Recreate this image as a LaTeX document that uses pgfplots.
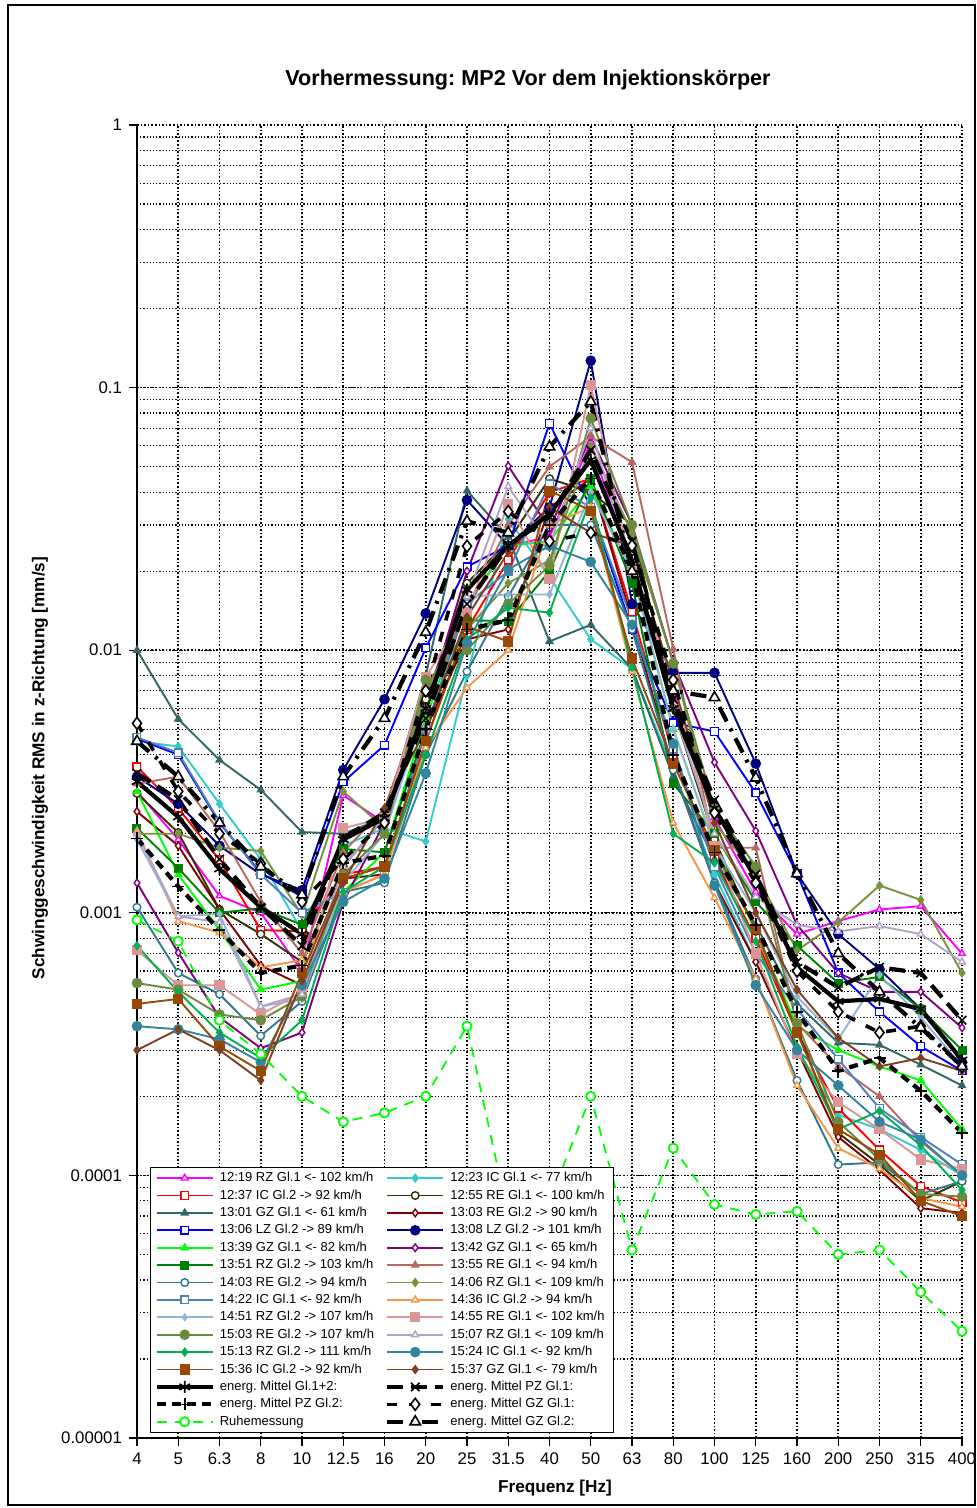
\documentclass[border=0pt]{standalone}
\usepackage{pgfplots}
\pgfplotsset{compat=1.18}
\usepackage{fontspec}
\setmainfont{Liberation Sans}
\frenchspacing
\definecolor{cA}{HTML}{FF00FF}
\definecolor{cB}{HTML}{33CCCC}
\definecolor{cC}{HTML}{FF0000}
\definecolor{cD}{HTML}{333300}
\definecolor{cE}{HTML}{336666}
\definecolor{cF}{HTML}{800000}
\definecolor{cG}{HTML}{0000FF}
\definecolor{cH}{HTML}{000080}
\definecolor{cI}{HTML}{00FF00}
\definecolor{cJ}{HTML}{800080}
\definecolor{cK}{HTML}{008000}
\definecolor{cL}{HTML}{B8685E}
\definecolor{cM}{HTML}{31788F}
\definecolor{cN}{HTML}{77933C}
\definecolor{cO}{HTML}{4F81BD}
\definecolor{cP}{HTML}{F79646}
\definecolor{cQ}{HTML}{95B3D7}
\definecolor{cR}{HTML}{D99694}
\definecolor{cS}{HTML}{6A8A3F}
\definecolor{cT}{HTML}{B3A2C7}
\definecolor{cU}{HTML}{00B050}
\definecolor{cV}{HTML}{31859C}
\definecolor{cW}{HTML}{984807}
\definecolor{cX}{HTML}{7E3F20}
\pgfplotsset{
  ser/.style n args={3}{color=#1, mark=#2, line width=0.95pt, mark size=1.9pt, mark options={solid, fill=#3, line width=0.7pt}},
  mean/.style={black, line width=2.1pt, mark size=3pt, mark options={solid, fill=white, line width=0.8pt}},
}
\begin{document}
\begin{tikzpicture}[x=1pt,y=1pt]
\useasboundingbox (-68.5,-35) rectangle (420,719);
\draw[line width=1pt] (-64.5,-33.5) rectangle (419,716.5);
\node[font=\bfseries\fontsize{10.8}{13}\selectfont] at (195.5,679) {Vorhermessung: MP2 Vor dem Injektionskörper};
\node[font=\bfseries\fontsize{8.6}{10}\selectfont, rotate=90] at (-48.5,335) {Schwinggeschwindigkeit RMS in z-Richtung [mm/s]};
\node[font=\bfseries\fontsize{8.6}{10}\selectfont] at (209,-25) {Frequenz [Hz]};
\begin{axis}[
  at={(0,0)}, anchor=south west,
  scale only axis, width=412.5pt, height=656.5pt,
  ymode=log, ymin=1e-5, ymax=1,
  xmin=0, xmax=20,
  xtick={0,...,20},
  xticklabels={4,5,6.3,8,10,12.5,16,20,25,31.5,40,50,63,80,100,125,160,200,250,315,400},
  ytick={1e-5,1e-4,1e-3,1e-2,1e-1,1},
  yticklabels={0.00001,0.0001,0.001,0.01,0.1,1},
  tick label style={font=\fontsize{8.4}{10}\selectfont},
  axis lines*=left,
  axis line style={black, line width=0.8pt},
  tick align=outside,
  major tick length=4pt, minor tick length=0pt,
  tick style={black, line width=0.6pt},
  grid=both,
  major grid style={black, line width=0.8pt, densely dotted},
  minor grid style={black, line width=0.6pt, densely dotted},
  clip=false,
  legend columns=2,
  legend cell align=left,
  legend image code/.code={\draw[mark repeat=2,mark phase=2,#1] plot coordinates {(0pt,0pt)(14pt,0pt)(28pt,0pt)};},
  legend style={at={(axis description cs:0.0158,0.0038)}, anchor=south west,
    draw=black, line width=0.6pt, fill=white, inner xsep=2pt, inner ysep=1pt,
    font=\fontsize{6.5}{8}\selectfont, row sep=0pt,
    nodes={text height=4.9pt, text depth=1.4pt, inner ysep=1.2pt, inner xsep=2.5pt},
    /tikz/every even column/.append style={column sep=3pt}},
]
% 12:19
\addplot[ser={cA}{triangle*}{white}] coordinates {(0,2.9e-3)(1,1.9e-3)(2,1.16e-3)(3,1.0e-3)(4,6.0e-4)(5,2.8e-3)(6,2.2e-3)(7,6e-3)(8,0.015)(9,0.025)(10,0.027)(11,0.062)(12,0.02)(13,7e-3)(14,2.3e-3)(15,1.2e-3)(16,8.3e-4)(17,9.3e-4)(18,1.03e-3)(19,1.06e-3)(20,7.0e-4)};
\addlegendentry{12:19 RZ Gl.1 <- 102 km/h}
% 12:23
\addplot[ser={cB}{diamond*}{cB}] coordinates {(0,4.5e-3)(1,4.3e-3)(2,2.6e-3)(3,1.6e-3)(4,8.5e-4)(5,1.8e-3)(6,2.1e-3)(7,1.87e-3)(8,8e-3)(9,0.0316)(10,0.019)(11,0.011)(12,8.5e-3)(13,3.5e-3)(14,1.4e-3)(15,6.5e-4)(16,3.0e-4)(17,1.7e-4)(18,1.5e-4)(19,1.25e-4)(20,1.0e-4)};
\addlegendentry{12:23 IC Gl.1 <- 77 km/h}
% 12:37
\addplot[ser={cC}{square*}{white}] coordinates {(0,3.6e-3)(1,2.5e-3)(2,1.59e-3)(3,8.6e-4)(4,8.5e-4)(5,1.4e-3)(6,1.5e-3)(7,4.5e-3)(8,0.012)(9,0.022)(10,0.04)(11,0.045)(12,0.014)(13,4e-3)(14,1.6e-3)(15,8e-4)(16,3.5e-4)(17,1.8e-4)(18,1.25e-4)(19,9.1e-5)(20,7.9e-5)};
\addlegendentry{12:37 IC Gl.2 -> 92 km/h}
% 12:55
\addplot[ser={cD}{*}{white}] coordinates {(0,2.85e-3)(1,2.02e-3)(2,1.03e-3)(3,8.3e-4)(4,6.5e-4)(5,1.5e-3)(6,2.3e-3)(7,6.5e-3)(8,0.018)(9,0.026)(10,0.045)(11,0.04)(12,0.03)(13,6e-3)(14,1.9e-3)(15,8.5e-4)(16,3.6e-4)(17,1.45e-4)(18,1.1e-4)(19,8e-5)(20,9.5e-5)};
\addlegendentry{12:55 RE Gl.1 <- 100 km/h}
% 13:01
\addplot[ser={cE}{triangle*}{cE}] coordinates {(0,0.01)(1,5.47e-3)(2,3.82e-3)(3,2.94e-3)(4,2.03e-3)(5,2.0e-3)(6,2.3e-3)(7,8e-3)(8,0.0405)(9,0.027)(10,0.0108)(11,0.0125)(12,8.5e-3)(13,3.3e-3)(14,1.6e-3)(15,9e-4)(16,4.5e-4)(17,3.2e-4)(18,3.14e-4)(19,2.64e-4)(20,2.2e-4)};
\addlegendentry{13:01 GZ Gl.1 <- 61 km/h}
% 13:03
\addplot[ser={cF}{diamond*}{white}] coordinates {(0,2.43e-3)(1,1.8e-3)(2,1.03e-3)(3,6.3e-4)(4,5.3e-4)(5,1.35e-3)(6,1.4e-3)(7,5e-3)(8,0.011)(9,0.012)(10,0.035)(11,0.045)(12,0.013)(13,3.5e-3)(14,1.3e-3)(15,6.5e-4)(16,3.0e-4)(17,1.4e-4)(18,1.05e-4)(19,7.5e-5)(20,7.2e-5)};
\addlegendentry{13:03 RE Gl.2 -> 90 km/h}
% 13:06
\addplot[ser={cG}{square*}{white}] coordinates {(0,4.6e-3)(1,4.0e-3)(2,2.2e-3)(3,1.42e-3)(4,1.15e-3)(5,3.15e-3)(6,4.35e-3)(7,0.0102)(8,0.0208)(9,0.025)(10,0.073)(11,0.035)(12,0.012)(13,5.3e-3)(14,4.9e-3)(15,2.86e-3)(16,1.41e-3)(17,5.9e-4)(18,4.2e-4)(19,3.1e-4)(20,2.5e-4)};
\addlegendentry{13:06 LZ Gl.2 -> 89 km/h}
% 13:08
\addplot[ser={cH}{*}{cH}, mark size=2.3pt] coordinates {(0,3.3e-3)(1,2.6e-3)(2,1.8e-3)(3,1.4e-3)(4,1.22e-3)(5,3.5e-3)(6,6.5e-3)(7,0.0138)(8,0.0373)(9,0.025)(10,0.035)(11,0.1266)(12,0.015)(13,8.2e-3)(14,8.2e-3)(15,3.7e-3)(16,1.41e-3)(17,8.3e-4)(18,6.1e-4)(19,4.3e-4)(20,2.7e-4)};
\addlegendentry{13:08 LZ Gl.2 -> 101 km/h}
% 13:39
\addplot[ser={cI}{triangle*}{cI}] coordinates {(0,2.9e-3)(1,1.4e-3)(2,8.6e-4)(3,5.1e-4)(4,5.5e-4)(5,1.2e-3)(6,1.7e-3)(7,5.5e-3)(8,0.015)(9,0.025)(10,0.026)(11,0.042)(12,0.02)(13,5e-3)(14,1.8e-3)(15,8.5e-4)(16,3.7e-4)(17,3.0e-4)(18,2.6e-4)(19,2.3e-4)(20,1.5e-4)};
\addlegendentry{13:39 GZ Gl.1 <- 82 km/h}
% 13:42
\addplot[ser={cJ}{diamond*}{white}] coordinates {(0,1.3e-3)(1,7.05e-4)(2,4.0e-4)(3,3.05e-4)(4,3.5e-4)(5,1.1e-3)(6,2.2e-3)(7,6e-3)(8,0.02)(9,0.0503)(10,0.029)(11,0.065)(12,0.03)(13,9e-3)(14,3.74e-3)(15,2.05e-3)(16,9.0e-4)(17,5.9e-4)(18,5.0e-4)(19,5.0e-4)(20,3.65e-4)};
\addlegendentry{13:42 GZ Gl.1 <- 65 km/h}
% 13:51
\addplot[ser={cK}{square*}{cK}] coordinates {(0,2.1e-3)(1,1.48e-3)(2,1.0e-3)(3,1.04e-3)(4,9.0e-4)(5,1.75e-3)(6,1.7e-3)(7,5e-3)(8,0.013)(9,0.0129)(10,0.02)(11,0.045)(12,0.018)(13,3.1e-3)(14,2.0e-3)(15,1.1e-3)(16,7.5e-4)(17,5.4e-4)(18,5.7e-4)(19,4.3e-4)(20,3.0e-4)};
\addlegendentry{13:51 RZ Gl.2 -> 103 km/h}
% 13:55
\addplot[ser={cL}{triangle*}{cL}] coordinates {(0,3.1e-3)(1,3.3e-3)(2,2.04e-3)(3,1.1e-3)(4,7e-4)(5,1.7e-3)(6,2.5e-3)(7,7e-3)(8,0.014)(9,0.03)(10,0.05)(11,0.065)(12,0.052)(13,0.0101)(14,1.77e-3)(15,1.77e-3)(16,3.8e-4)(17,2.6e-4)(18,2.0e-4)(19,1.35e-4)(20,1.0e-4)};
\addlegendentry{13:55 RE Gl.1 <- 94 km/h}
% 14:03
\addplot[ser={cM}{*}{white}] coordinates {(0,1.05e-3)(1,5.9e-4)(2,4.9e-4)(3,3.4e-4)(4,4.6e-4)(5,1.2e-3)(6,1.3e-3)(7,4e-3)(8,8.3e-3)(9,0.016)(10,0.03)(11,0.03)(12,0.012)(13,3.5e-3)(14,1.3e-3)(15,5.6e-4)(16,2.3e-4)(17,1.1e-4)(18,1.12e-4)(19,8.5e-5)(20,9.5e-5)};
\addlegendentry{14:03 RE Gl.2 -> 94 km/h}
% 14:06
\addplot[ser={cN}{diamond*}{cN}] coordinates {(0,2.0e-3)(1,2.0e-3)(2,1.77e-3)(3,1.72e-3)(4,9.8e-4)(5,2.9e-3)(6,2.1e-3)(7,7e-3)(8,0.012)(9,0.018)(10,0.022)(11,0.06)(12,0.028)(13,9e-3)(14,2.2e-3)(15,1.4e-3)(16,7.2e-4)(17,9.2e-4)(18,1.27e-3)(19,1.12e-3)(20,5.9e-4)};
\addlegendentry{14:06 RZ Gl.1 <- 109 km/h}
% 14:22
\addplot[ser={cO}{square*}{white}] coordinates {(0,4.66e-3)(1,4.07e-3)(2,2.22e-3)(3,1.4e-3)(4,1.0e-3)(5,1.2e-3)(6,1.4e-3)(7,5e-3)(8,0.015)(9,0.02)(10,0.043)(11,0.035)(12,0.013)(13,4.2e-3)(14,1.5e-3)(15,7e-4)(16,4.3e-4)(17,2.77e-4)(18,1.8e-4)(19,1.4e-4)(20,1.1e-4)};
\addlegendentry{14:22 IC Gl.1 <- 92 km/h}
% 14:36
\addplot[ser={cP}{triangle*}{white}] coordinates {(0,2.05e-3)(1,9.3e-4)(2,8.4e-4)(3,6.2e-4)(4,6.6e-4)(5,1.2e-3)(6,1.4e-3)(7,4.25e-3)(8,7.2e-3)(9,0.01)(10,0.03)(11,0.035)(12,8.3e-3)(13,2.2e-3)(14,1.14e-3)(15,5.6e-4)(16,2.2e-4)(17,1.27e-4)(18,1.06e-4)(19,8.2e-5)(20,7.6e-5)};
\addlegendentry{14:36 IC Gl.2 -> 94 km/h}
% 14:51
\addplot[ser={cQ}{diamond*}{cQ}, mark size=1.6pt] coordinates {(0,1.9e-3)(1,9.7e-4)(2,9.9e-4)(3,4.4e-4)(4,4.7e-4)(5,1.3e-3)(6,2.0e-3)(7,6e-3)(8,0.016)(9,0.0163)(10,0.0163)(11,0.04)(12,0.02)(13,5e-3)(14,1.8e-3)(15,1.0e-3)(16,4.8e-4)(17,3.3e-4)(18,5.8e-4)(19,4.0e-4)(20,2.6e-4)};
\addlegendentry{14:51 RZ Gl.2 -> 107 km/h}
% 14:55
\addplot[ser={cR}{square*}{cR}, mark size=2.2pt] coordinates {(0,7.2e-4)(1,5.3e-4)(2,5.3e-4)(3,4.1e-4)(4,5.0e-4)(5,2.1e-3)(6,2.3e-3)(7,7.9e-3)(8,0.014)(9,0.036)(10,0.0187)(11,0.102)(12,0.02)(13,7.7e-3)(14,1.8e-3)(15,7.0e-4)(16,2.9e-4)(17,1.9e-4)(18,1.5e-4)(19,1.15e-4)(20,1.06e-4)};
\addlegendentry{14:55 RE Gl.1 <- 102 km/h}
% 15:03
\addplot[ser={cS}{*}{cS}, mark size=2.3pt] coordinates {(0,5.4e-4)(1,5.1e-4)(2,4.1e-4)(3,3.9e-4)(4,4.8e-4)(5,1.4e-3)(6,2.0e-3)(7,7.7e-3)(8,0.01)(9,0.015)(10,0.021)(11,0.0764)(12,0.03)(13,8.9e-3)(14,2.5e-3)(15,1.5e-3)(16,3.8e-4)(17,1.6e-4)(18,1.15e-4)(19,8.5e-5)(20,8.3e-5)};
\addlegendentry{15:03 RE Gl.2 -> 107 km/h}
% 15:07
\addplot[ser={cT}{triangle*}{white}] coordinates {(0,2.0e-3)(1,9.7e-4)(2,9.2e-4)(3,4.4e-4)(4,4.9e-4)(5,1.5e-3)(6,2.3e-3)(7,6e-3)(8,0.016)(9,0.042)(10,0.025)(11,0.07)(12,0.02)(13,6e-3)(14,2.0e-3)(15,1.15e-3)(16,9.0e-4)(17,8.5e-4)(18,8.9e-4)(19,8.3e-4)(20,6.5e-4)};
\addlegendentry{15:07 RZ Gl.1 <- 109 km/h}
% 15:13
\addplot[ser={cU}{diamond*}{cU}] coordinates {(0,7.5e-4)(1,5.0e-4)(2,3.5e-4)(3,2.8e-4)(4,3.9e-4)(5,1.2e-3)(6,1.5e-3)(7,4e-3)(8,0.011)(9,0.0145)(10,0.0139)(11,0.038)(12,8.6e-3)(13,2.0e-3)(14,1.55e-3)(15,7.8e-4)(16,3.1e-4)(17,1.5e-4)(18,1.76e-4)(19,1.3e-4)(20,8.8e-5)};
\addlegendentry{15:13 RZ Gl.2 -> 111 km/h}
% 15:24
\addplot[ser={cV}{*}{cV}, mark size=2.3pt] coordinates {(0,3.7e-4)(1,3.6e-4)(2,3.3e-4)(3,2.7e-4)(4,5.3e-4)(5,1.1e-3)(6,1.35e-3)(7,3.4e-3)(8,0.0107)(9,0.0203)(10,0.025)(11,0.0217)(12,0.0125)(13,4.4e-3)(14,1.27e-3)(15,5.3e-4)(16,3.0e-4)(17,2.2e-4)(18,1.6e-4)(19,1.37e-4)(20,1.0e-4)};
\addlegendentry{15:24 IC Gl.1 <- 92 km/h}
% 15:36
\addplot[ser={cW}{square*}{cW}, mark size=2.2pt] coordinates {(0,4.5e-4)(1,4.7e-4)(2,3.1e-4)(3,2.5e-4)(4,5.9e-4)(5,1.35e-3)(6,1.5e-3)(7,4.5e-3)(8,0.0123)(9,0.0108)(10,0.0405)(11,0.034)(12,9.3e-3)(13,3.7e-3)(14,1.74e-3)(15,8.7e-4)(16,3.5e-4)(17,1.5e-4)(18,1.2e-4)(19,8.0e-5)(20,7.0e-5)};
\addlegendentry{15:36 IC Gl.2 -> 92 km/h}
% 15:37
\addplot[ser={cX}{diamond*}{cX}] coordinates {(0,3.0e-4)(1,3.6e-4)(2,3.0e-4)(3,2.3e-4)(4,5.5e-4)(5,1.3e-3)(6,2.5e-3)(7,5e-3)(8,0.0134)(9,0.0236)(10,0.035)(11,0.028)(12,0.025)(13,7.5e-3)(14,2.2e-3)(15,1.0e-3)(16,5.1e-4)(17,3.34e-4)(18,2.6e-4)(19,2.8e-4)(20,2.5e-4)};
\addlegendentry{15:37 GZ Gl.1 <- 79 km/h}
% Gl.1+2
\addplot[mean, mark=asterisk] coordinates {(0,3.16e-3)(1,2.32e-3)(2,1.47e-3)(3,1.05e-3)(4,8.3e-4)(5,1.9e-3)(6,2.3e-3)(7,6e-3)(8,0.017)(9,0.025)(10,0.033)(11,0.053)(12,0.022)(13,6e-3)(14,2.5e-3)(15,1.35e-3)(16,6.2e-4)(17,4.6e-4)(18,4.7e-4)(19,4.3e-4)(20,2.75e-4)};
\addlegendentry{energ. Mittel Gl.1+2:}
% PZ Gl.1
\addplot[mean, mark=x, dash pattern=on 8pt off 4pt] coordinates {(0,3.4e-3)(1,2.7e-3)(2,1.6e-3)(3,1.05e-3)(4,7.5e-4)(5,1.93e-3)(6,2.4e-3)(7,5.5e-3)(8,0.015)(9,0.025)(10,0.0322)(11,0.0578)(12,0.026)(13,6.5e-3)(14,2.69e-3)(15,1.4e-3)(16,6.5e-4)(17,5.2e-4)(18,6.2e-4)(19,5.9e-4)(20,3.9e-4)};
\addlegendentry{energ. Mittel PZ Gl.1:}
% PZ Gl.2
\addplot[mean, mark=+, dash pattern=on 4.5pt off 3pt] coordinates {(0,1.92e-3)(1,1.26e-3)(2,8.6e-4)(3,5.9e-4)(4,6.3e-4)(5,1.55e-3)(6,1.65e-3)(7,5e-3)(8,0.012)(9,0.013)(10,0.03)(11,0.045)(12,0.02)(13,4e-3)(14,1.7e-3)(15,9e-4)(16,4.2e-4)(17,2.5e-4)(18,2.8e-4)(19,2.1e-4)(20,1.45e-4)};
\addlegendentry{energ. Mittel PZ Gl.2:}
% GZ Gl.1
\addplot[mean, mark=diamond*, line width=1.8pt, dash pattern=on 5pt off 6pt] coordinates {(0,5.27e-3)(1,2.9e-3)(2,2.0e-3)(3,1.54e-3)(4,1.1e-3)(5,1.6e-3)(6,2.2e-3)(7,7e-3)(8,0.0249)(9,0.0337)(10,0.026)(11,0.028)(12,0.025)(13,7.7e-3)(14,2.4e-3)(15,1.3e-3)(16,6e-4)(17,4.2e-4)(18,3.5e-4)(19,3.7e-4)(20,2.6e-4)};
\addlegendentry{energ. Mittel GZ Gl.1:}
% Ruhemessung
\addplot[color=cI, line width=0.9pt, dash pattern=on 5pt off 4pt, mark=*, mark size=2.3pt, mark options={solid, fill=white}] coordinates {(0,9.4e-4)(1,7.8e-4)(2,3.9e-4)(3,2.9e-4)(4,2.0e-4)(5,1.6e-4)(6,1.73e-4)(7,2.0e-4)(8,3.7e-4)(9,7e-5)(10,8e-5)(11,2.0e-4)(12,5.2e-5)(13,1.27e-4)(14,7.75e-5)(15,7.1e-5)(16,7.3e-5)(17,5.0e-5)(18,5.2e-5)(19,3.6e-5)(20,2.55e-5)};
\addlegendentry{Ruhemessung}
% GZ Gl.2
\addplot[mean, mark=triangle*, dash pattern=on 8pt off 4pt on 1.5pt off 4pt] coordinates {(0,4.5e-3)(1,3.3e-3)(2,2.2e-3)(3,1.5e-3)(4,1.17e-3)(5,3.3e-3)(6,5.5e-3)(7,0.0117)(8,0.031)(9,0.028)(10,0.0595)(11,0.0884)(12,0.02)(13,7.0e-3)(14,6.6e-3)(15,3.26e-3)(16,1.41e-3)(17,7.0e-4)(18,5.0e-4)(19,3.65e-4)(20,2.6e-4)};
\addlegendentry{energ. Mittel GZ Gl.2:}
\end{axis}
\end{tikzpicture}
\end{document}
